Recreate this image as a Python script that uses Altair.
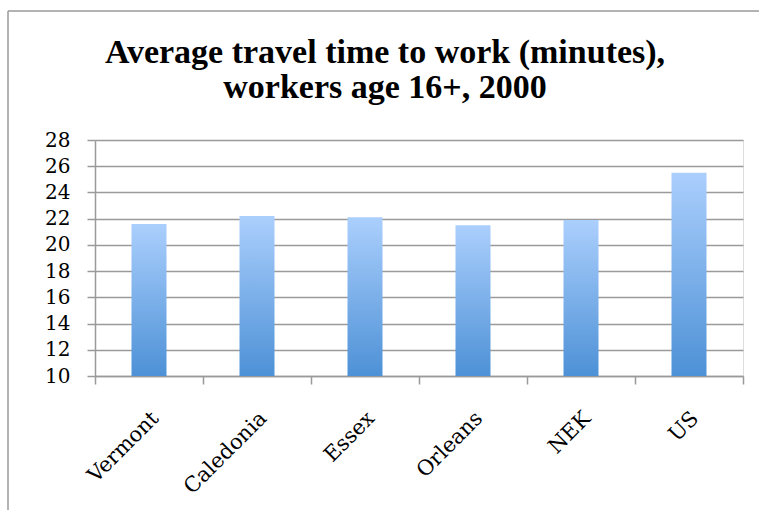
import altair as alt
import pandas as pd

categories = ["Vermont", "Caledonia", "Essex", "Orleans", "NEK", "US"]
values = [21.6, 22.2, 22.1, 21.5, 21.9, 25.5]
y_ticks = [10, 12, 14, 16, 18, 20, 22, 24, 26, 28]
title_lines = ["Average travel time to work (minutes),", "workers age 16+, 2000"]

df = pd.DataFrame({"cat": categories, "val": values})

W, H = 648, 236
SERIF = "DejaVu Serif"
TITLE_FONT = "Liberation Serif"
GRID = "#9a9a9a"

gradient = alt.LinearGradient(
    gradient="linear",
    stops=[alt.GradientStop(color="#abcffd", offset=0),
           alt.GradientStop(color="#4d91d6", offset=1)],
    x1=0, x2=0, y1=0, y2=1,
)

x = alt.X("cat:N", sort=categories, title=None,
          scale=alt.Scale(paddingInner=0, paddingOuter=0),
          axis=alt.Axis(labelAngle=-45, labelAlign="right", labelBaseline="middle",
                        labelFont=SERIF, labelFontSize=21, labelColor="black",
                        labelPadding=31, labelOffset=6, tickBand="extent", tickSize=8,
                        tickColor=GRID, tickWidth=1.5, domainColor=GRID,
                        domainWidth=1.5, grid=False))
y = alt.Y("val:Q", title=None,
          scale=alt.Scale(domain=[10, 28], nice=False, zero=False),
          axis=alt.Axis(values=y_ticks, labelFont=SERIF, labelFontSize=20,
                        labelColor="black", labelPadding=17, tickSize=8,
                        tickColor=GRID, tickWidth=1.5, domainColor=GRID,
                        domainWidth=1.5, gridColor=GRID, gridWidth=1.5,
                        gridOpacity=1))

bars = alt.Chart(df).mark_bar(size=35, color=gradient).encode(
    x=x, y=y, y2=alt.datum(10)
)

t1 = alt.Chart(pd.DataFrame({"t": [title_lines[0]]})).mark_text(
    font=TITLE_FONT, fontSize=34, fontWeight="bold", align="center",
    baseline="alphabetic", color="black"
).encode(text="t:N", x=alt.value(290), y=alt.value(-77))

t2 = alt.Chart(pd.DataFrame({"t": [title_lines[1]]})).mark_text(
    font=TITLE_FONT, fontSize=34, fontWeight="bold", align="center",
    baseline="alphabetic", color="black"
).encode(text="t:N", x=alt.value(290), y=alt.value(-42))

border_top = alt.Chart(df.head(1)).mark_rule(color=GRID, strokeWidth=1.5).encode(
    x=alt.value(-87), x2=alt.value(664), y=alt.value(-129)
)
border_left = alt.Chart(df.head(1)).mark_rule(color=GRID, strokeWidth=1.5).encode(
    x=alt.value(-87), x2=alt.value(-87), y=alt.value(-129), y2=alt.value(370)
)

chart = alt.layer(border_top, border_left, bars, t1, t2).properties(
    width=W, height=H,
    autosize=alt.AutoSizeParams(type="none"),
    padding={"left": 95, "top": 140, "right": 17, "bottom": 151},
).configure_view(strokeWidth=0).configure(background="white")

chart.save("out.html", embed_options={"renderer": "svg", "actions": False})
